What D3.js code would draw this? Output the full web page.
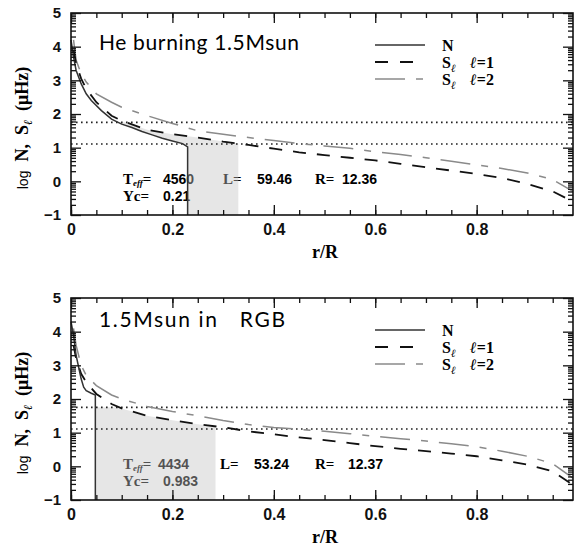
<!DOCTYPE html>
<html>
<head>
<meta charset="utf-8">
<script src="https://cdn.jsdelivr.net/npm/d3@7"></script>
<style>
body { margin: 0; background: #fff; }
text { font-family: "Liberation Serif", serif; }
</style>
</head>
<body>
<div class="plot"></div>
<script>
// r/R grid shared by the S_l curves
const sGrid = [0.005,0.01,0.02,0.03,0.05,0.08,0.1,0.15,0.2,0.25,0.3,0.35,0.4,0.45,0.5,0.55,0.6,0.65,0.7,0.75,0.8,0.85,0.9,0.95,0.99];

// He burning model
const heNx = [0,0.005,0.01,0.02,0.03,0.04,0.06,0.08,0.1,0.12,0.14,0.16,0.18,0.2,0.22,0.23,0.23];
const heNy = [4.2,3.7,3.3,2.9,2.6,2.4,2.1,1.85,1.7,1.6,1.48,1.38,1.28,1.2,1.12,1.02,-1];
const heS1 = [3.9,3.5,3.05,2.75,2.35,1.95,1.8,1.53,1.4,1.3,1.18,1.08,0.97,0.86,0.78,0.7,0.62,0.52,0.42,0.32,0.22,0.1,-0.08,-0.3,-0.6];
const heS2 = [4.2,3.6,3.2,2.95,2.6,2.35,2.2,1.95,1.72,1.5,1.4,1.3,1.21,1.12,1.05,0.98,0.88,0.8,0.7,0.6,0.49,0.38,0.25,0.05,-0.3];

// RGB model
const rgbNx = [0,0.005,0.01,0.015,0.02,0.025,0.03,0.04,0.048,0.048];
const rgbNy = [4.3,3.9,3.3,2.95,2.6,2.35,2.25,2.17,2.12,-1];
const rgbS1 = [3.6,3.2,2.75,2.5,2.15,1.85,1.72,1.5,1.37,1.25,1.16,1.04,0.95,0.86,0.78,0.69,0.6,0.52,0.45,0.38,0.3,0.18,0.05,-0.15,-0.55];
const rgbS2 = [4.1,3.6,3.0,2.7,2.4,2.12,2.0,1.78,1.63,1.5,1.36,1.24,1.15,1.1,1.04,0.97,0.89,0.82,0.75,0.67,0.58,0.45,0.3,0.08,-0.35];

// panel labels and model numbers
const titles = ["He burning 1.5Msun", "1.5Msun in   RGB"];
const teffVals = ["4560", "4434"];
const lumVals = ["59.46", "53.24"];
const radVals = ["12.36", "12.37"];
const ycVals = ["0.21", "0.983"];
const shadeEnd = [0.33, 0.285];      // right edge of the grey band in r/R
const nuLevels = [1.75, 1.11];       // dotted frequency levels
const xTicks = [0, 0.2, 0.4, 0.6, 0.8];
const yTicks = [-1, 0, 1, 2, 3, 4, 5];

const W = 575, H = 548;
const svg = d3.select(".plot").append("svg")
    .attr("width", W)
    .attr("height", H);

const panels = [
    {top: 13, titleY: 50, titleW: 200, nx: heNx, ny: heNy, s1: heS1, s2: heS2, tx: 163, lx: 223, rx: 342},
    {top: 298, titleY: 327, titleW: 186, nx: rgbNx, ny: rgbNy, s1: rgbS1, s2: rgbS2, tx: 158, lx: 220, rx: 348}
];

const sans = "'Liberation Sans', Arial, sans-serif";

panels.forEach((p, i) => {
    const x = d3.scaleLinear().domain([0, 0.99]).range([71, 573]);
    const y = d3.scaleLinear().domain([-1, 5]).range([p.top + 202, p.top]);
    const g = svg.append("g");

    const nPts = p.nx.map((v, k) => [v, p.ny[k]]);
    const s1Pts = sGrid.map((v, k) => [v, p.s1[k]]);
    const s2Pts = sGrid.map((v, k) => [v, p.s2[k]]);
    const line = d3.line().x(d => x(d[0])).y(d => y(d[1]));

    // model numbers (drawn under the shade)
    const num = (t, xx, v) => t.append("tspan").attr("x", xx)
        .style("font-family", sans).style("font-size", "14px").text(v);
    const t1 = g.append("text")
        .attr("y", p.top + 171)
        .style("font-weight", "bold")
        .style("font-size", "15px");
    t1.append("tspan").attr("x", 123).text("T");
    t1.append("tspan").attr("dy", 2).style("font-size", "9px").style("font-style", "italic").text("eff");
    t1.append("tspan").attr("dy", -2).text("=");
    num(t1, p.tx, teffVals[i]);
    t1.append("tspan").attr("x", p.lx).text("L=");
    num(t1, p.lx + 34, lumVals[i]);
    t1.append("tspan").attr("x", 315).text("R=");
    num(t1, p.rx, radVals[i]);

    const t2 = g.append("text")
        .attr("y", p.top + 188)
        .style("font-weight", "bold")
        .style("font-size", "15px");
    t2.append("tspan").attr("x", 123).text("Yc=");
    num(t2, 163, ycVals[i]);

    // grey band: between N and S1, below the upper level
    const clipId = "clip" + i;
    const poly = s1Pts.concat([[0.99, -1]], nPts.slice().reverse());
    g.append("clipPath").attr("id", clipId)
        .append("path")
        .attr("d", line(poly) + "Z");
    g.append("rect")
        .attr("clip-path", `url(#${clipId})`)
        .attr("x", x(0))
        .attr("y", y(nuLevels[0]))
        .attr("width", x(shadeEnd[i]) - x(0))
        .attr("height", y(-1) - y(nuLevels[0]))
        .attr("fill", "#c4c4c4")
        .attr("fill-opacity", 0.42);

    // dotted levels
    g.selectAll(".lvl").data(nuLevels).enter().append("line")
        .attr("x1", x(0)).attr("x2", x(0.99))
        .attr("y1", d => y(d)).attr("y2", d => y(d))
        .attr("stroke", "#222")
        .attr("stroke-width", 1.6)
        .attr("stroke-dasharray", "1.6,3.4");

    // curves
    g.append("path").attr("d", line(s2Pts))
        .attr("fill", "none").attr("stroke", "#8a8a8a").attr("stroke-width", 1.5)
        .attr("stroke-dasharray", "30,11,7,11");
    g.append("path").attr("d", line(s1Pts))
        .attr("fill", "none").attr("stroke", "#111").attr("stroke-width", 1.8)
        .attr("stroke-dasharray", "13,11");
    g.append("path").attr("d", line(nPts))
        .attr("fill", "none").attr("stroke", "#333").attr("stroke-width", 1.5);

    // axes with inward ticks
    const minorX = d3.range(0, 0.99, 0.05);
    const minorY = [];
    for (let n = -1; n < 5; n++) for (let k = 2; k < 10; k++) minorY.push(n + Math.log10(k));

    const addAxis = (axis, tf) => {
        const a = g.append("g").attr("transform", tf).call(axis);
        a.select(".domain").remove();
        a.selectAll("line").attr("stroke", "#111").attr("stroke-width", 1.3);
        return a;
    };
    const bx = addAxis(d3.axisBottom(x).tickValues(xTicks).tickSize(-10).tickPadding(9)
        .tickFormat(d => d === 0 ? "0" : d3.format(".1f")(d)), `translate(0,${y(-1)})`);
    bx.selectAll("text").style("font-family", sans).style("font-weight", "bold")
        .style("font-size", "16px").attr("fill", "#111");
    addAxis(d3.axisBottom(x).tickValues(minorX).tickSize(-5).tickFormat(""), `translate(0,${y(-1)})`);
    addAxis(d3.axisTop(x).tickValues(xTicks).tickSize(-10).tickFormat(""), `translate(0,${y(5)})`);
    addAxis(d3.axisTop(x).tickValues(minorX).tickSize(-5).tickFormat(""), `translate(0,${y(5)})`);

    const ly = addAxis(d3.axisLeft(y).tickValues(yTicks).tickSize(-10).tickPadding(10)
        .tickFormat(d => d < 0 ? "\u2212" + Math.abs(d) : d), `translate(${x(0)},0)`);
    ly.selectAll("text").style("font-family", sans).style("font-weight", "bold")
        .style("font-size", "15px").attr("fill", "#111");
    addAxis(d3.axisLeft(y).tickValues(minorY).tickSize(-5).tickFormat(""), `translate(${x(0)},0)`);
    addAxis(d3.axisRight(y).tickValues(yTicks).tickSize(-10).tickFormat(""), `translate(${x(0.99)},0)`);
    addAxis(d3.axisRight(y).tickValues(minorY).tickSize(-5).tickFormat(""), `translate(${x(0.99)},0)`);

    // frame
    g.append("rect")
        .attr("x", x(0)).attr("y", y(5))
        .attr("width", x(0.99) - x(0)).attr("height", y(-1) - y(5))
        .attr("fill", "none").attr("stroke", "#111").attr("stroke-width", 1.6);

    // axis titles
    g.append("text")
        .attr("x", 325).attr("y", y(-1) + 43)
        .attr("text-anchor", "middle")
        .style("font-weight", "bold").style("font-size", "18px")
        .text("r/R");

    const yl = g.append("text")
        .attr("transform", `translate(28,${p.top + 115}) rotate(-90)`)
        .attr("text-anchor", "middle")
        .attr("xml:space", "preserve")
        .style("white-space", "pre")
        .style("font-weight", "bold").style("font-size", "18px");
    yl.append("tspan").style("font-size", "14px").style("font-family", sans).style("font-weight", "normal").text("log");
    yl.append("tspan").text("  N,  S");
    yl.append("tspan").attr("dy", 4).style("font-size", "12px").style("font-style", "italic").text("\u2113");
    yl.append("tspan").attr("dy", -4).text("  (\u03bcHz)");

    // panel title
    g.append("text")
        .attr("x", 99).attr("y", p.titleY)
        .attr("xml:space", "preserve")
        .attr("textLength", p.titleW)
        .attr("lengthAdjust", "spacing")
        .style("white-space", "pre")
        .style("font-family", "Lato, 'Open Sans', sans-serif")
        .style("font-size", "21px")
        .text(titles[i]);

    // legend
    const legY = [p.top + 32, p.top + 49, p.top + 66];
    const leg = [
        {stroke: "#333", w: 1.5, dash: null, label: "N", l: null},
        {stroke: "#111", w: 1.8, dash: "13,12", label: "S", l: "1"},
        {stroke: "#8a8a8a", w: 1.5, dash: "30,11,7,11", label: "S", l: "2"}
    ];
    leg.forEach((d, k) => {
        g.append("line")
            .attr("x1", 375).attr("x2", 425)
            .attr("y1", legY[k]).attr("y2", legY[k])
            .attr("stroke", d.stroke).attr("stroke-width", d.w)
            .attr("stroke-dasharray", d.dash);
        const t = g.append("text")
            .attr("x", 442).attr("y", legY[k] + 6)
            .style("font-weight", "bold").style("font-size", "16px");
        t.append("tspan").text(d.label);
        if (d.l) {
            t.append("tspan").attr("dy", 4).style("font-size", "11px").style("font-style", "italic").text("\u2113");
            t.append("tspan").attr("x", 470).attr("dy", -4).style("font-style", "italic").text("\u2113");
            t.append("tspan").text("=" + d.l);
        }
    });
});
</script>
</body>
</html>
